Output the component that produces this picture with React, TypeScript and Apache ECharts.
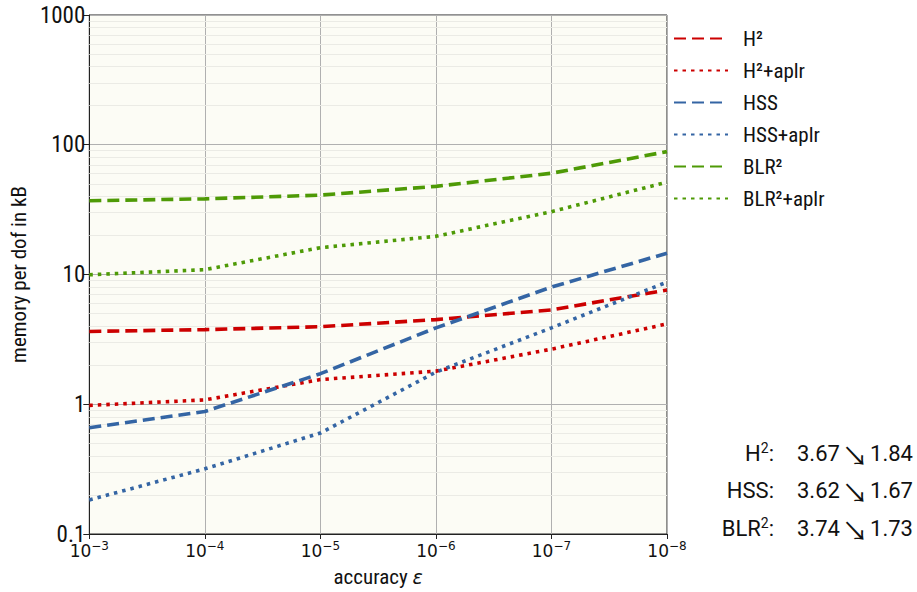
import React, { useEffect, useRef } from "react";
import * as echarts from "echarts";

const categories = ["-3", "-4", "-5", "-6", "-7", "-8"];
const h2 = [3.64, 3.76, 3.96, 4.49, 5.34, 7.6];
const h2Aplr = [0.98, 1.08, 1.55, 1.8, 2.66, 4.16];
const hss = [0.66, 0.88, 1.72, 3.88, 8.0, 14.6];
const hssAplr = [0.183, 0.318, 0.6, 1.77, 3.88, 8.74];
const blr2 = [37.0, 38.3, 40.9, 47.8, 60.3, 88.5];
const blr2Aplr = [9.95, 10.9, 16.1, 19.7, 30.5, 51.5];
const seriesNames = ["H²", "H²+aplr", "HSS", "HSS+aplr", "BLR²", "BLR²+aplr"];
const minorValues = [
  0.2, 0.3, 0.4, 0.5, 0.6, 0.7, 0.8, 0.9,
  2, 3, 4, 5, 6, 7, 8, 9,
  20, 30, 40, 50, 60, 70, 80, 90,
  200, 300, 400, 500, 600, 700, 800, 900,
];
const annoLabels = [["H", "2"], ["HSS", ""], ["BLR", "2"]];
const annoFrom = ["3.67", "3.62", "3.74"];
const annoTo = ["1.84", "1.67", "1.73"];

const NARROW = "'Liberation Sans Narrow', 'Roboto Condensed', Roboto, sans-serif";
const FONT = "Roboto";
const RED = "#cc0000";
const BLUE = "#3465a4";
const GREEN = "#4e9a06";
const DASH = [12, 6];
const DOT = [3.5, 5];

export default function App() {
  const ref = useRef<HTMLDivElement>(null);
  useEffect(() => {
    if (!ref.current) return;
    const chart = echarts.init(ref.current, null, { renderer: "svg" });
    const mk = (name: string, data: number[], color: string, dash: number[], extra: any = {}) => ({
      name,
      type: "line",
      data,
      symbol: "none",
      lineStyle: { color, width: 3.6, type: dash, cap: "butt" },
      itemStyle: { color },
      z: 3,
      ...extra,
    });
    const series: any[] = [
      mk(seriesNames[0], h2, RED, DASH, {
        markLine: {
          silent: true,
          symbol: ["none", "none"],
          label: { show: false },
          lineStyle: { color: "#ebebe5", type: "solid", width: 1 },
          data: minorValues.map((v) => ({ yAxis: v })),
          z: 1,
        },
      }),
      mk(seriesNames[1], h2Aplr, RED, DOT),
      mk(seriesNames[2], hss, BLUE, DASH),
      mk(seriesNames[3], hssAplr, BLUE, DOT),
      mk(seriesNames[4], blr2, GREEN, DASH),
      mk(seriesNames[5], blr2Aplr, GREEN, DOT),
    ];
    const graphics: any[] = [];
    annoLabels.forEach((lab, i) => {
      const y = 453 + i * 37.5;
      graphics.push({
        type: "text",
        x: 774,
        y,
        style: {
          text: `{b|${lab[0]}}${lab[1] ? `{s|${lab[1]}}` : ""}{b|:}`,
          align: "right",
          verticalAlign: "middle",
          rich: {
            b: { fontFamily: FONT, fontSize: 22, fill: "#111" },
            s: { fontFamily: FONT, fontSize: 14, fill: "#111", padding: [0, 0, 11, 0] },
          },
        },
      });
      graphics.push({
        type: "text",
        x: 797,
        y,
        style: { text: annoFrom[i], align: "left", verticalAlign: "middle", fontFamily: FONT, fontSize: 22, fill: "#111" },
      });
      graphics.push({
        type: "text",
        x: 855,
        y: y + 1,
        style: { text: "↘", align: "center", verticalAlign: "middle", fontFamily: "Noto Sans CJK SC", fontSize: 26, fill: "#111" },
      });
      graphics.push({
        type: "text",
        x: 913,
        y,
        style: { text: annoTo[i], align: "right", verticalAlign: "middle", fontFamily: FONT, fontSize: 22, fill: "#111" },
      });
    });
    chart.setOption({
      animation: false,
      textStyle: { fontFamily: NARROW },
      grid: {
        left: 87,
        right: 250,
        top: 15,
        bottom: 49,
        show: true,
        backgroundColor: "#fcfcf5",
        borderColor: "#222",
        borderWidth: 1,
      },
      legend: {
        orient: "vertical",
        left: 668,
        top: 23,
        itemWidth: 54,
        itemHeight: 14,
        itemGap: 11,
        data: seriesNames,
        itemStyle: { opacity: 0 },
        textStyle: { fontFamily: NARROW, fontSize: 21, color: "#111", padding: [0, 0, 0, 10] },
      },
      xAxis: {
        type: "category",
        data: categories,
        boundaryGap: false,
        name: "accuracy {e|ε}",
        nameLocation: "middle",
        nameGap: 32,
        nameTextStyle: {
          fontFamily: NARROW,
          fontSize: 21,
          color: "#111",
          rich: { e: { fontFamily: "DejaVu Sans", fontStyle: "italic", fontSize: 19, color: "#111" } },
        },
        axisLine: { lineStyle: { color: "#222" } },
        axisTick: { show: true, inside: false, length: 5, alignWithLabel: true, lineStyle: { color: "#222" } },
        axisLabel: {
          formatter: (v: string) => `{b|10}{s|−${v.slice(1)}}`,
          margin: 6,
          rich: {
            b: { fontFamily: "DejaVu Sans", fontSize: 17, color: "#111" },
            s: { fontFamily: "DejaVu Sans", fontSize: 12, color: "#111", padding: [0, 0, 10, 0] },
          },
        },
        splitLine: { show: true, lineStyle: { color: "#b0b0b0", width: 1 } },
      },
      yAxis: {
        type: "log",
        logBase: 10,
        min: 0.1,
        max: 1000,
        name: "memory per dof in kB",
        nameLocation: "middle",
        nameGap: 60,
        nameTextStyle: { fontFamily: NARROW, fontSize: 21, color: "#111" },
        axisLine: { show: true, lineStyle: { color: "#222" } },
        axisTick: { show: true, length: 6, lineStyle: { color: "#222" } },
        axisLabel: {
          fontFamily: NARROW,
          fontSize: 23,
          color: "#111",
          margin: 4,
          formatter: (v: number) => (v < 1 ? String(Number(v.toFixed(1))) : String(Math.round(v))),
        },
        splitLine: { show: true, lineStyle: { color: "#b0b0b0", width: 1 } },
      },
      series,
      graphic: graphics,
    });
    return () => chart.dispose();
  }, []);
  return <div ref={ref} style={{ width: 917, height: 592, position: "absolute", left: 0, top: 0 }} />;
}
